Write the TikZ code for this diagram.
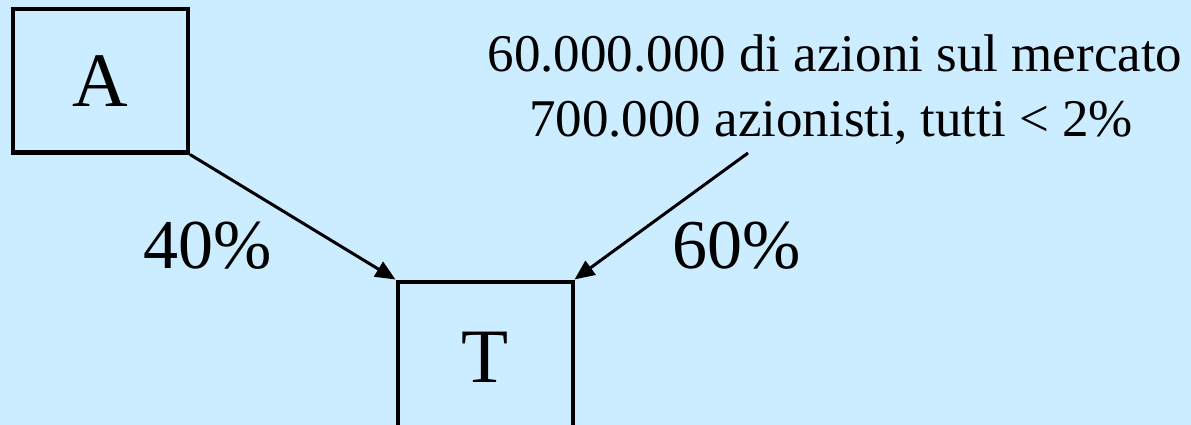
\documentclass[tikz,border=0pt]{standalone}
\usepackage{fontspec}
\setmainfont{Liberation Serif}
\usetikzlibrary{arrows.meta}
\definecolor{bg}{RGB}{204,236,255}
\begin{document}
\begin{tikzpicture}[x=1pt,y=-1pt,
  box/.style={draw=black,line width=4pt,fill=bg,minimum width=175pt,minimum height=143pt,inner sep=0pt,font=\fontsize{77}{80}\selectfont},
  conn/.style={line width=3pt,-{Triangle[length=20pt,width=17pt]}},
  pct/.style={font=\fontsize{70}{72}\selectfont,anchor=base},
  note/.style={font=\fontsize{53}{65}\selectfont,align=center,anchor=base}]
\fill[bg] (0,0) rectangle (1191,425);
\useasboundingbox (0,0) rectangle (1191,425);
\clip (0,0) rectangle (1191,425);
\node[box] (A) at (100.5,81) {A};
\node[box,minimum height=151pt] (T) at (485,357) {T};
\node[note] (l1) at (835,72) {60.000.000 di azioni sul mercato};
\node[note] (l2) at (831,137) {700.000 azionisti, tutti < 2\%};
\coordinate (src) at (748,153);
\draw[conn] (A.south east) -- (T.north west);
\draw[conn] (src) -- (T.north east);
\node[pct] (p40) at (208,268) {40\%};
\node[pct] (p60) at (737,268) {60\%};
\end{tikzpicture}
\end{document}
